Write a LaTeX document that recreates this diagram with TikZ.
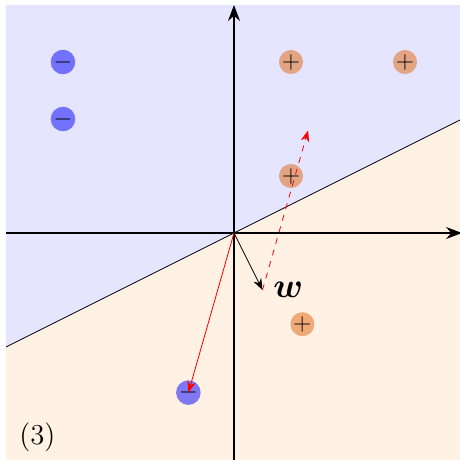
\documentclass[tikz,border=0pt]{standalone}
\usepackage{amsmath,amssymb}
\usepackage{xcolor}
\usepackage{tikz}
\usetikzlibrary{arrows.meta}

\definecolor{ptorange}{RGB}{226,100,10}

\begin{document}
\begin{tikzpicture}[
    pospt/.style={circle, fill=ptorange, fill opacity=0.5, text opacity=1, inner sep=0pt, minimum size=0.41cm, font=\large},
    negpt/.style={circle, fill=blue, fill opacity=0.5, text opacity=1, inner sep=0pt, minimum size=0.41cm, font=\large},
    axis/.style={-{Stealth[length=2.8mm]}, semithick},
    warr/.style={-{Stealth[length=2mm]}, thin},
    updarr/.style={-{Stealth[length=2mm]}, thin, red},
    newarr/.style={-{Stealth[length=2mm]}, thin, red, dashed},
]
\useasboundingbox (-4.105,-3.965) rectangle (3.965,4.088);

% --- Demi-plans de part et d'autre de la frontière ---
\fill[blue!10] (-4,-2) -- (4,2) -- (4,4) -- (-4,4) -- cycle;
\fill[orange!10] (-4,-2) -- (4,2) -- (4,-4) -- (-4,-4) -- cycle;
\coordinate (bl) at (-4,-2);
\coordinate (br) at (4,2);
\draw[thin] (bl) -- (br);

% --- Axes ---
\coordinate (O) at (0,0);
\coordinate (xl) at (-4,0);
\coordinate (xr) at (4,0);
\coordinate (yb) at (0,-4);
\coordinate (yt) at (0,4);
\draw[axis] (xl) -- (xr);
\draw[axis] (yb) -- (yt);

% --- Points ---
\node[negpt] (m1) at (-3,3) {$-$};
\node[negpt] (m2) at (-3,2) {$-$};
\node[negpt] (m3) at (-0.8,-2.8) {$-$};
\node[pospt] (p1) at (1,3) {$+$};
\node[pospt] (p2) at (3,3) {$+$};
\node[pospt] (p3) at (1,1) {$+$};
\node[pospt] (p4) at (1.2,-1.6) {$+$};

% --- Vecteur w et mise à jour ---
\coordinate (wtip) at (0.5,-1);
\coordinate (wnew) at (1.3,1.8);
\draw[warr] (O) -- (wtip);
\node (wlab) at (0.95,-1.0) {\LARGE$\boldsymbol{w}$};
\draw[updarr] (O) -- (m3.center);
\draw[newarr] (wtip) -- (wnew);

\node (num) at (-3.45,-3.58) {\Large (3)};

\end{tikzpicture}
\end{document}
